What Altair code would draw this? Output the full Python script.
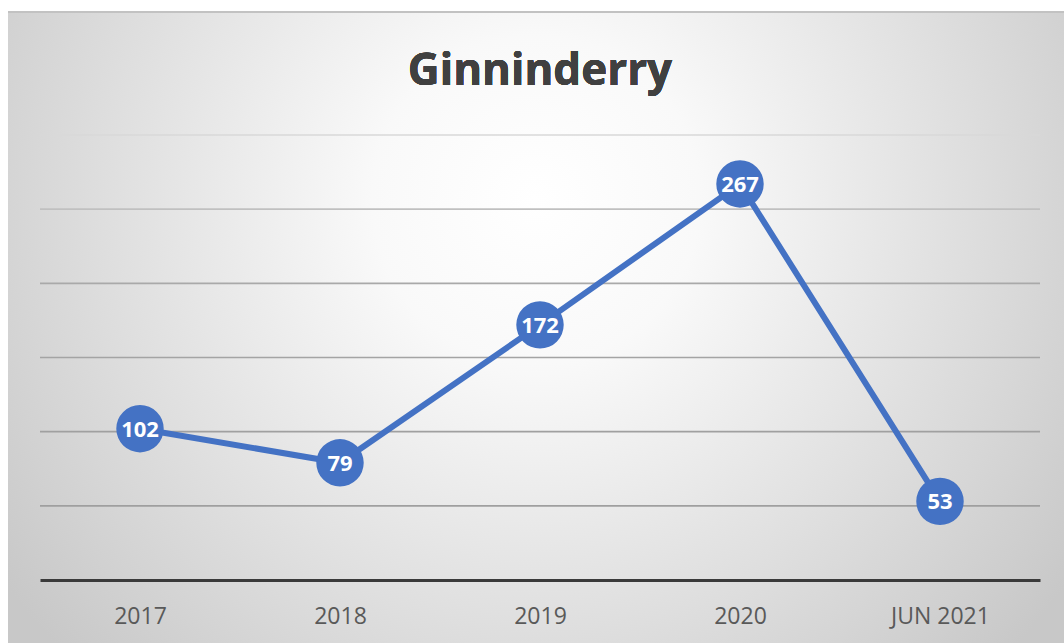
import altair as alt
import pandas as pd

# Yearly figures for Ginninderry
periods = ["2017", "2018", "2019", "2020", "JUN 2021"]
counts = [102, 79, 172, 267, 53]

# Horizontal guide values and their shades
grid_values = [50, 100, 150, 200, 250, 300]
grid_colors = ["#9f9f9f", "#a0a0a0", "#a4a4a4", "#a9a9a9", "#c0c0c0", "#d9d9d9"]

df = pd.DataFrame({"period": periods, "count": counts})
grid_df = pd.DataFrame({"value": grid_values, "shade": grid_colors})

BLUE = "#4472C4"
W, H = 1000, 445

y_scale = alt.Scale(domain=[0, 300], nice=False, zero=True)

x_enc = alt.X(
    "period:N",
    sort=periods,
    scale=alt.Scale(type="point", padding=0.5),
    axis=alt.Axis(
        title=None,
        labelFont="Open Sans",
        labelFontSize=23,
        labelColor="#595959",
        labelPadding=25,
        ticks=False,
        tickSize=0,
        domainColor="#3a3a3a",
        domainWidth=3,
        grid=False,
        labelAngle=0,
        zindex=1,
    ),
)
y_enc = alt.Y("count:Q", scale=y_scale, axis=None)

# Soft radial backdrop behind the whole chart
backdrop = alt.Chart(df).mark_rect(
    fill={
        "gradient": "radial",
        "x1": 0.5, "y1": 0.38, "r1": 0,
        "x2": 0.5, "y2": 0.38, "r2": 0.62,
        "stops": [
            {"offset": 0, "color": "#ffffff"},
            {"offset": 0.25, "color": "#f9f9f9"},
            {"offset": 1, "color": "#c8c8c8"},
        ],
    },
).encode(
    x=alt.value(-32), x2=alt.value(1024),
    y=alt.value(-124), y2=alt.value(508),
)

top_edge = alt.Chart(df).mark_rule(color="#c2c2c2", strokeWidth=2).encode(
    x=alt.value(-32), x2=alt.value(1024), y=alt.value(-123)
)

grid = alt.Chart(grid_df).mark_rule(strokeWidth=1.6).encode(
    y=alt.Y("value:Q", scale=y_scale, axis=None),
    x=alt.value(0),
    x2=alt.value(W),
    color=alt.Color("shade:N", scale=None, legend=None),
)

line = alt.Chart(df).mark_line(color=BLUE, strokeWidth=6).encode(x=x_enc, y=y_enc)

dots = alt.Chart(df).mark_circle(color=BLUE, opacity=1, size=2250).encode(
    x=alt.X("period:N", sort=periods), y="count:Q"
)

labels = alt.Chart(df).mark_text(
    font="Open Sans", fontSize=22, fontWeight="bold", color="white",
    baseline="middle", align="center", dy=1,
).encode(x=alt.X("period:N", sort=periods), y="count:Q", text="count:Q")

title = alt.Chart(df).mark_text(
    text="Ginninderry", font="Open Sans", fontSize=44, fontWeight="bold",
    color="#404040", align="center", baseline="alphabetic",
).encode(x=alt.value(500), y=alt.value(-50))

chart = (
    alt.layer(backdrop, top_edge, grid, line, dots, labels, title)
    .properties(
        width=W,
        height=H,
        padding={"left": 40, "top": 135, "right": 24, "bottom": 63},
        autosize=alt.AutoSizeParams(type="none"),
        background="white",
    )
    .configure_view(stroke=None)
)

chart.save("out.html", embed_options={"renderer": "svg", "actions": False})
